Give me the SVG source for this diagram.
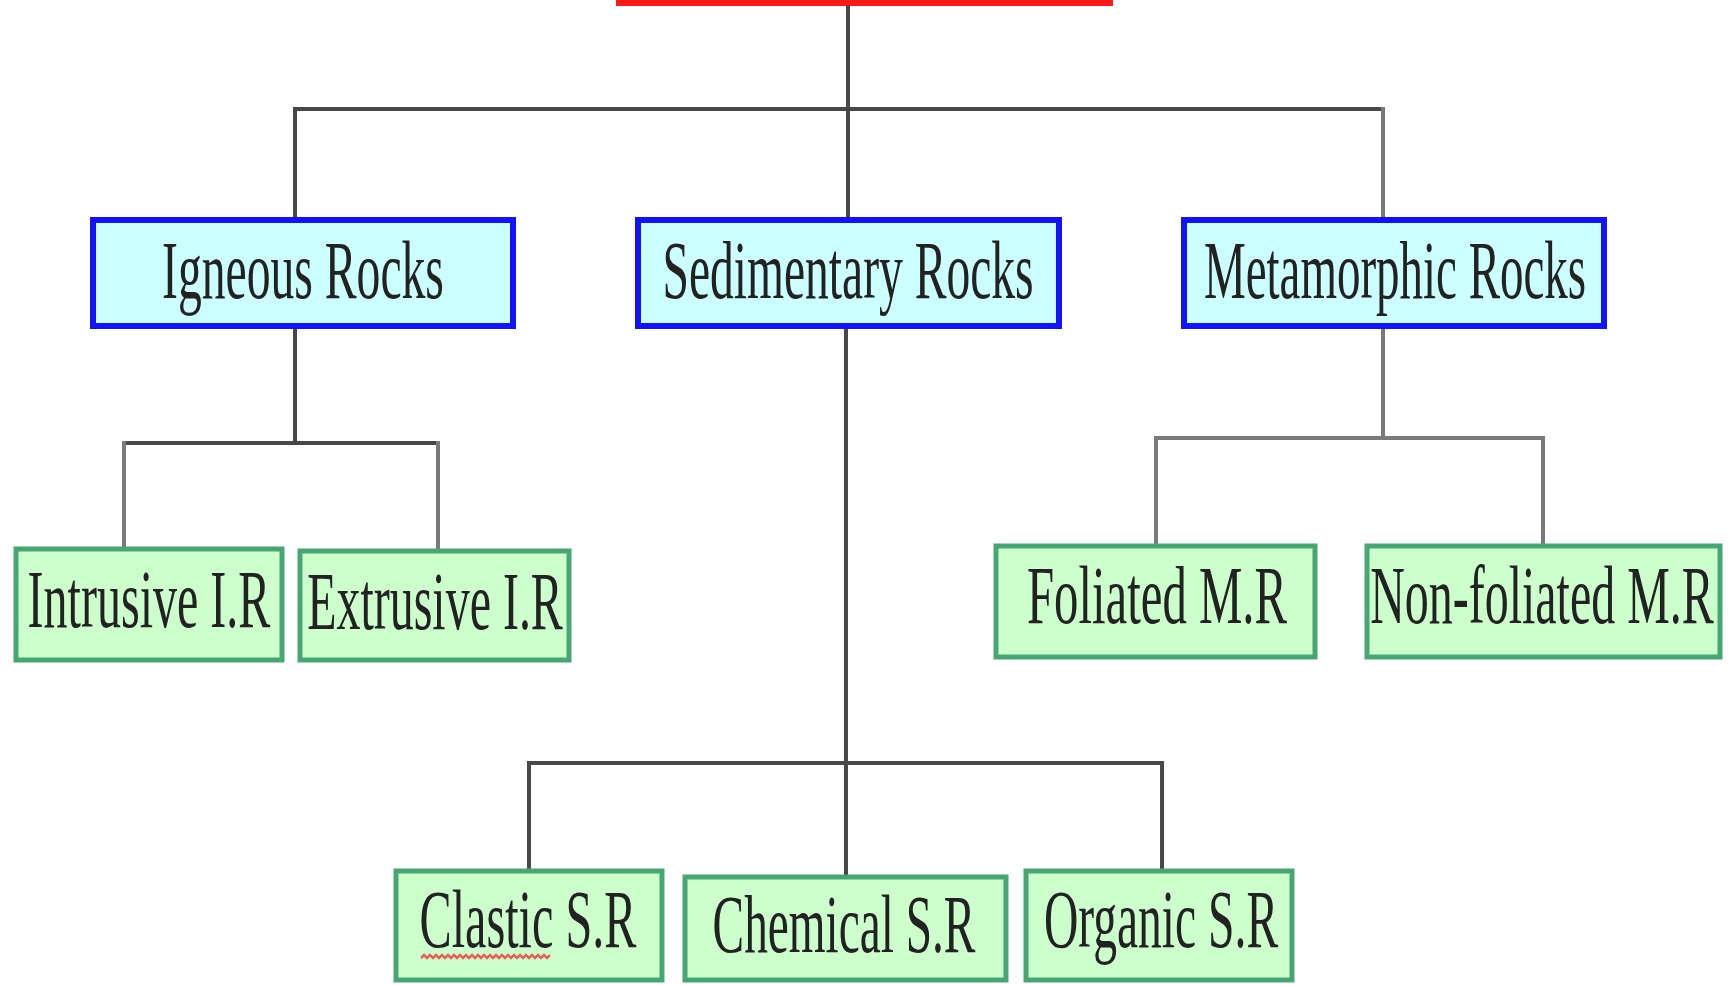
<svg xmlns="http://www.w3.org/2000/svg" width="1732" height="985" viewBox="0 0 1732 985">
  <style>
    .root { fill: #ffff99; stroke: #ff1a1a; stroke-width: 6; }
    .cls { fill: #ccffff; stroke: #1212ff; stroke-width: 6; }
    .sub { fill: #ccffcc; stroke: #47a774; stroke-width: 5; }
    .lbl { font-family: "Liberation Serif", "Times New Roman", serif; font-size: 82px; fill: #222; text-anchor: middle; }
    .ln { fill: none; stroke: #484848; stroke-width: 4; stroke-linecap: square; }
    .ln-lt { fill: none; stroke: #7a7a7a; stroke-width: 4; stroke-linecap: square; }
  </style>

  <!-- connectors -->
  <g id="connectors">
    <!-- root to the three classes -->
    <path class="ln" d="M848 8 V220"/>
    <path class="ln" d="M295 109 H1383"/>
    <path class="ln" d="M295 109 V220"/>
    <path class="ln-lt" d="M1383 109 V220"/>
    <!-- igneous branch -->
    <path class="ln" d="M295 326 V443"/>
    <path class="ln" d="M124 443 H438"/>
    <path class="ln-lt" d="M124 443 V549"/>
    <path class="ln-lt" d="M438 443 V551"/>
    <!-- metamorphic branch -->
    <path class="ln-lt" d="M1383 326 V438"/>
    <path class="ln-lt" d="M1156 438 H1543"/>
    <path class="ln-lt" d="M1156 438 V546"/>
    <path class="ln-lt" d="M1543 438 V546"/>
    <!-- sedimentary branch -->
    <path class="ln" d="M846 326 V877"/>
    <path class="ln" d="M529 763 H1162"/>
    <path class="ln" d="M529 763 V871"/>
    <path class="ln" d="M1162 763 V871"/>
  </g>

  <!-- top node (mostly above the frame) -->
  <g id="rocks">
    <rect class="root" x="619" y="-60" width="491" height="63"/>
  </g>

  <!-- labels are set in a serif face squeezed horizontally -->
  <g id="igneous">
    <rect class="cls" x="93" y="220" width="420" height="106"/>
    <text class="lbl" transform="translate(303 298) scale(0.581 1)">Igneous Rocks</text>
  </g>
  <g id="sedimentary">
    <rect class="cls" x="638" y="220" width="421" height="106"/>
    <text class="lbl" transform="translate(848 298) scale(0.58 1)">Sedimentary Rocks</text>
  </g>
  <g id="metamorphic">
    <rect class="cls" x="1184" y="220" width="420" height="106"/>
    <text class="lbl" transform="translate(1395 298) scale(0.573 1)">Metamorphic Rocks</text>
  </g>

  <g id="intrusive">
    <rect class="sub" x="16" y="549" width="266" height="111"/>
    <text class="lbl" transform="translate(149 627) scale(0.586 1)">Intrusive I.R</text>
  </g>
  <g id="extrusive">
    <rect class="sub" x="300" y="551" width="269" height="109"/>
    <text class="lbl" transform="translate(435 629) scale(0.585 1)">Extrusive I.R</text>
  </g>

  <g id="foliated">
    <rect class="sub" x="996" y="546" width="319" height="111"/>
    <text class="lbl" transform="translate(1157 623) scale(0.595 1)">Foliated M.R</text>
  </g>
  <g id="non-foliated">
    <rect class="sub" x="1367" y="546" width="353" height="111"/>
    <text class="lbl" transform="translate(1542 623) scale(0.585 1)">Non-foliated M.R</text>
  </g>

  <g id="clastic">
    <rect class="sub" x="396" y="871" width="266" height="109"/>
    <text class="lbl" transform="translate(528 947) scale(0.588 1)">Clastic S.R</text>
    <!-- spell-check squiggle under the word -->
    <path d="M421 958 l3 -3 l3 3 l3 -3 l3 3 l3 -3 l3 3 l3 -3 l3 3 l3 -3 l3 3 l3 -3 l3 3 l3 -3 l3 3 l3 -3 l3 3 l3 -3 l3 3 l3 -3 l3 3 l3 -3 l3 3 l3 -3 l3 3 l3 -3 l3 3 l3 -3 l3 3 l3 -3 l3 3 l3 -3 l3 3 l3 -3 l3 3 l3 -3 l3 3 l3 -3 l3 3 l3 -3 l3 3 l3 -3 l3 3 l3 -3" fill="none" stroke="#e8605a" stroke-width="2.5"/>
  </g>
  <g id="chemical">
    <rect class="sub" x="685" y="877" width="321" height="103"/>
    <text class="lbl" transform="translate(844 952) scale(0.577 1)">Chemical S.R</text>
  </g>
  <g id="organic">
    <rect class="sub" x="1026" y="871" width="266" height="109"/>
    <text class="lbl" transform="translate(1161 947) scale(0.58 1)">Organic S.R</text>
  </g>
</svg>
